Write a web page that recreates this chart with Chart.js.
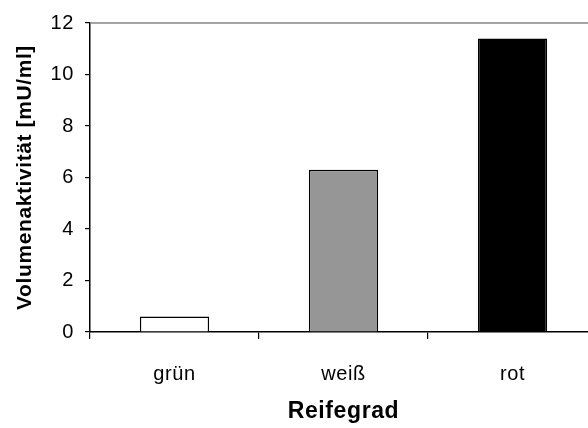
<!DOCTYPE html>
<html lang="de">
<head>
<meta charset="utf-8">
<title>Volumenaktivität nach Reifegrad</title>
<script src="https://cdn.jsdelivr.net/npm/chart.js@4"></script>
<style>
  html, body { margin: 0; padding: 0; background: #fff; overflow: hidden; }
  #wrap { width: 600px; height: 428px; }
</style>
</head>
<body>
<div id="wrap"><canvas id="chart" width="600" height="428"></canvas></div>
<script>
const categories = ['grün', 'weiß', 'rot'];
const activity = [0.6, 6.3, 11.4];
const barColors = ['#ffffff', '#969696', '#000000'];
const yMin = 0;
const yMax = 12;
const yStep = 2;

const fontFamily = "'Liberation Sans', Arial, Helvetica, sans-serif";

// slightly wider glyph spacing for all canvas text
const textSpacing = {
  id: 'textSpacing',
  beforeLayout(chart) { chart.ctx.letterSpacing = '0.6px'; },
  beforeDraw(chart) { chart.ctx.letterSpacing = '0.6px'; },
};

// thin grey frame line along the top of the plot area
const topFrame = {
  id: 'topFrame',
  afterDraw(chart) {
    const { ctx, chartArea } = chart;
    ctx.save();
    ctx.strokeStyle = '#868686';
    ctx.lineWidth = 1.5;
    ctx.beginPath();
    ctx.moveTo(chartArea.left, chartArea.top);
    ctx.lineTo(chartArea.right, chartArea.top);
    ctx.stroke();
    ctx.restore();
  },
};

new Chart(document.getElementById('chart'), {
  type: 'bar',
  data: {
    labels: categories,
    datasets: [{
      data: activity,
      backgroundColor: barColors,
      borderColor: '#000000',
      borderWidth: 1.5,
      barPercentage: 0.41,
      categoryPercentage: 1,
    }],
  },
  options: {
    responsive: false,
    animation: false,
    layout: { padding: { top: 19, right: 3, bottom: 0, left: 0 } },
    plugins: {
      legend: { display: false },
      tooltip: { enabled: false },
    },
    scales: {
      x: {
        offset: true,
        grid: {
          offset: true,
          drawOnChartArea: false,
          drawTicks: true,
          tickLength: 7,
          color: '#000000',
          lineWidth: 1.2,
        },
        border: { color: '#000000', width: 1.5 },
        ticks: {
          color: '#000000',
          padding: 23,
          font: { family: fontFamily, size: 20 },
        },
        title: {
          display: true,
          text: 'Reifegrad',
          color: '#000000',
          padding: 3,
          font: { family: fontFamily, size: 23, weight: 'bold' },
        },
        afterFit(scale) { scale.height = 96; },
      },
      y: {
        min: yMin,
        max: yMax,
        grid: {
          drawOnChartArea: false,
          drawTicks: true,
          tickLength: 5,
          color: '#000000',
          lineWidth: 1.2,
        },
        border: { color: '#000000', width: 1.5 },
        ticks: {
          stepSize: yStep,
          color: '#000000',
          padding: 11,
          font: { family: fontFamily, size: 20 },
        },
        title: {
          display: true,
          text: 'Volumenaktivität [mU/ml]',
          color: '#000000',
          padding: 13,
          font: { family: fontFamily, size: 21, weight: 'bold' },
        },
        afterFit(scale) { scale.width = 90; },
      },
    },
  },
  plugins: [textSpacing, topFrame],
});
</script>
</body>
</html>
